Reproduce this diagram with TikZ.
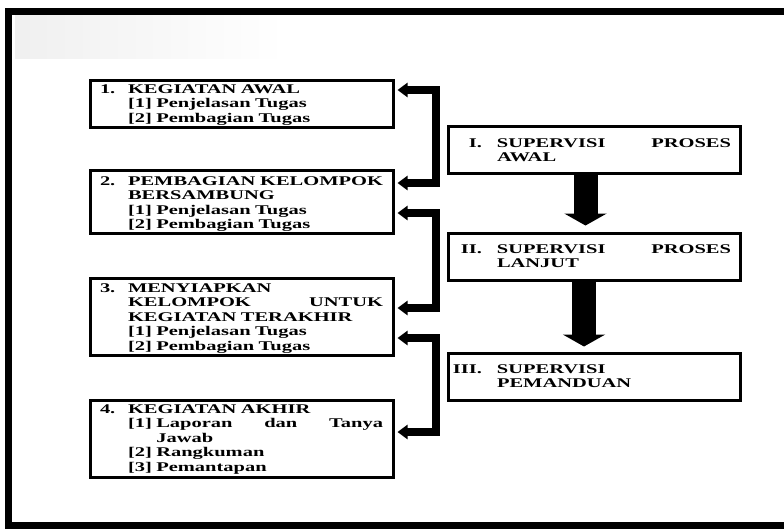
\documentclass[tikz,border=0pt]{standalone}
\usepackage{fontspec}
\setmainfont[FakeStretch=1.54]{Liberation Serif}
\usetikzlibrary{arrows.meta}
\newcommand\bline[2]{\hbox to \hsize{\hbox to 28pt{#1\hss}#2\hfil}}
\newcommand\rline[2]{\hbox to \hsize{\hbox to 40pt{\hss#1\hspace{15pt}}#2\hfil}}
\tikzset{
  lbox/.style={draw, line width=3pt, fill=white, inner sep=0pt, minimum width=303pt,
    text width=283pt, font=\fontsize{13.3}{14.5}\selectfont\bfseries},
  rbox/.style={draw, line width=3pt, fill=white, inner sep=0pt, minimum width=292pt,
    minimum height=47pt, text width=274pt, font=\fontsize{13.3}{14.5}\selectfont\bfseries},
  brk/.style={line width=8pt, line join=miter, {Triangle[length=10pt,width=14pt]}-{Triangle[length=10pt,width=14pt]},
    shorten <=3pt, shorten >=3pt},
  blk/.style={line width=24pt, -{Triangle[length=12pt,width=42pt]}}
}
\begin{document}
\begin{tikzpicture}[x=1pt,y=-1pt]
\useasboundingbox (0,0) rectangle (784,528);
\clip (0,0) rectangle (784,528);
\fill[white] (0,0) rectangle (784,528);
\shade[left color=black!6, right color=white] (15,15) rectangle (285,58);
\draw[line width=7pt] (8.5,11) rectangle (800,525);

\node[lbox, text height=13pt, text depth=34pt] (b1) at (241.5,103.5) {%
\bline{1.}{KEGIATAN AWAL}
\bline{}{[1] Penjelasan Tugas}
\bline{}{[2] Pembagian Tugas}};
\node[lbox, text height=15pt, text depth=48pt] (b2) at (241.5,201.5) {%
\bline{2.}{PEMBAGIAN\hfill KELOMPOK}
\bline{}{BERSAMBUNG}
\bline{}{[1] Penjelasan Tugas}
\bline{}{[2] Pembagian Tugas}};
\node[lbox, text height=14pt, text depth=63pt] (b3) at (241.5,316.5) {%
\bline{3.}{MENYIAPKAN}
\bline{}{KELOMPOK\hfill UNTUK}
\bline{}{KEGIATAN TERAKHIR}
\bline{}{[1] Penjelasan Tugas}
\bline{}{[2] Pembagian Tugas}};
\node[lbox, text height=13pt, text depth=64pt] (b4) at (241.5,438.5) {%
\bline{4.}{KEGIATAN AKHIR}
\bline{}{[1] Laporan\hfill dan\hfill Tanya}
\bline{}{\phantom{[1] }Jawab}
\bline{}{[2] Rangkuman}
\bline{}{[3] Pemantapan}};

\node[rbox, text height=21pt, text depth=26pt] (s1) at (594,149.5) {%
\rline{I.}{SUPERVISI\hfill PROSES}
\rline{}{AWAL}};
\node[rbox, text height=20pt, text depth=27pt] (s2) at (594,256.5) {%
\rline{II.}{SUPERVISI\hfill PROSES}
\rline{}{LANJUT}};
\node[rbox, text height=20pt, text depth=27pt] (s3) at (594,376.5) {%
\rline{III.}{SUPERVISI}
\rline{}{PEMANDUAN}};

\draw[blk, shorten >=6pt] ([xshift=-8.5pt]s1.south) -- ([xshift=-8.5pt]s2.north);
\draw[blk, shorten >=5pt] ([xshift=-10pt]s2.south) -- ([xshift=-10pt]s3.north);

\draw[brk] ([yshift=13.5pt]b1.east) -- ++(41pt,0) |- ([yshift=18.5pt]b2.east);
\draw[brk] ([yshift=-11.5pt]b2.east) -- ++(41pt,0) |- ([yshift=8.5pt]b3.east);
\draw[brk] ([yshift=-21.5pt]b3.east) -- ++(41pt,0) |- ([yshift=6.5pt]b4.east);
\end{tikzpicture}
\end{document}
